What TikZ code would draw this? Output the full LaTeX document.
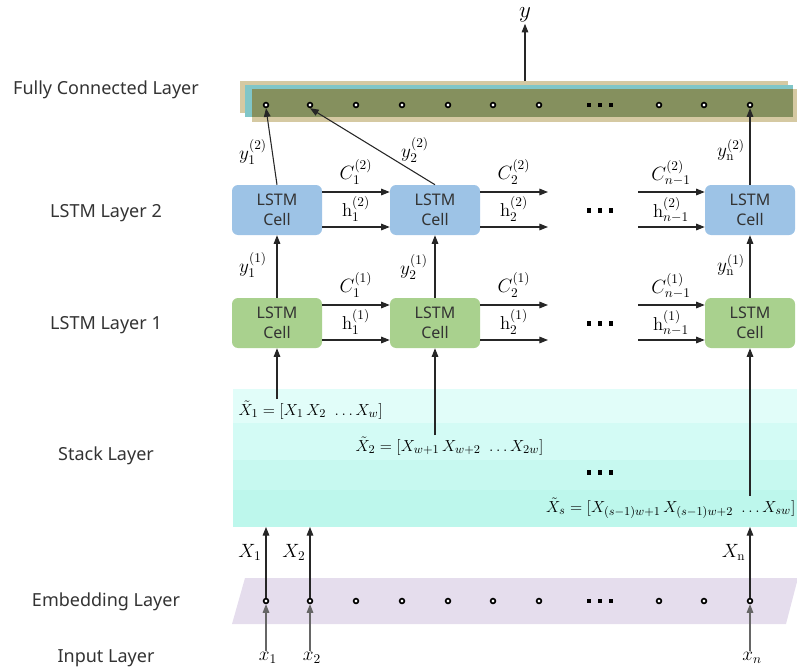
\documentclass[tikz,border=0pt]{standalone}
\usepackage{fontspec}
\usetikzlibrary{arrows.meta}
\newfontfamily\labfont{Noto Sans}
\definecolor{cellblue}{HTML}{9DC3E6}
\definecolor{cellgreen}{HTML}{A9D18E}
\definecolor{fctan}{HTML}{D5C9A2}
\definecolor{fcteal}{HTML}{80C6C8}
\definecolor{fcolive}{HTML}{85905E}
\definecolor{stA}{HTML}{E1FDF9}
\definecolor{stB}{HTML}{D3FBF5}
\definecolor{stC}{HTML}{C7F9F0}
\definecolor{stD}{HTML}{BDF7EC}
\definecolor{embcol}{HTML}{E5DDED}
\definecolor{txtgray}{HTML}{333333}
\begin{document}
\begin{tikzpicture}[x=0.75pt,y=-0.75pt,
  lbl/.style={font=\labfont\fontsize{13.5}{16}\selectfont, text=txtgray},
  cellbox/.style={rounded corners=4.5pt, minimum width=67.5pt, minimum height=37.5pt, inner sep=0pt, align=center, font=\labfont\fontsize{12}{14.6}\selectfont, text=txtgray},
  cellB/.style={cellbox, fill=cellblue},
  cellG/.style={cellbox, fill=cellgreen},
  dotn/.style={circle, draw=black, fill=white, line width=1.2pt, inner sep=0pt, minimum size=3.6pt},
  mth/.style={font=\fontsize{14}{16}\selectfont, inner sep=1pt},
  smth/.style={font=\fontsize{13}{15}\selectfont, inner sep=1pt},
  arr/.style={line width=0.8pt, draw=black!85, -{Triangle[length=6.5pt,width=5pt]}},
  garr/.style={line width=0.8pt, draw=black!60, -{Triangle[length=6.5pt,width=5pt]}}
]
\useasboundingbox (0,0) rectangle (797,671);

% left labels
\node[lbl] (lfc) at (106,90) {Fully Connected Layer};
\node[lbl] (ll2) at (106,213) {LSTM Layer 2};
\node[lbl] (ll1) at (106,325) {LSTM Layer 1};
\node[lbl] (lst) at (106,456) {Stack Layer};
\node[lbl] (lem) at (106,602) {Embedding Layer};
\node[lbl] (lin) at (106,658) {Input Layer};

% fully connected layer
\fill[fctan] (240,81) rectangle (788,113);
\fill[fcteal] (245,85) rectangle (793,117);
\fill[fctan] (252,89) rectangle (799,122);
\fill[fcolive] (252,89) rectangle (793,117);
\coordinate (fctop) at (525,81);

% stack layer
\fill[stA] (233,389) rectangle (797,423);
\fill[stB] (233,423) rectangle (797,460);
\fill[stC] (233,460) rectangle (797,490);
\fill[stD] (233,490) rectangle (797,527);
\coordinate (stbot) at (0,527);

% embedding layer
\fill[embcol] (245,578) -- (798,578) -- (786,624) -- (232,624) -- cycle;

% dots
\foreach \x [count=\i] in {266,310,356,402,448,493,539,659,704,750} {
  \node[dotn] (f\i) at (\x,105) {};
  \node[dotn] (e\i) at (\x,601) {};
}
\foreach \x in {589,600,611} {
  \fill (\x-2,103) rectangle (\x+2,107);
  \fill (\x-2,599) rectangle (\x+2,603);
  \fill (\x-2.3,208) rectangle (\x+2.3,212.6);
  \fill (\x-2.3,321) rectangle (\x+2.3,325.6);
  \fill (\x-2.3,470) rectangle (\x+2.3,474.6);
}

% output
\node[font=\fontsize{17}{19}\selectfont, inner sep=1pt] (yout) at (525,15) {$y$};
\draw[arr] (fctop) -- (yout.south);

% LSTM cells
\node[cellB] (b1) at (277,210) {LSTM\\Cell};
\node[cellB] (b2) at (435,210) {LSTM\\Cell};
\node[cellB] (b3) at (750,210) {LSTM\\Cell};
\node[cellG] (g1) at (277,323) {LSTM\\Cell};
\node[cellG] (g2) at (435,323) {LSTM\\Cell};
\node[cellG] (g3) at (750,323) {LSTM\\Cell};

% free ends of horizontal arrows
\coordinate (bu2) at (548,192); \coordinate (bl2) at (548,227);
\coordinate (bu3) at (638,192); \coordinate (bl3) at (638,227);
\coordinate (gu2) at (548,305); \coordinate (gl2) at (548,340);
\coordinate (gu3) at (638,305); \coordinate (gl3) at (638,340);

% layer 2 horizontal arrows
\draw[arr] (b1.east |- bu2) -- (b2.west |- bu2);
\draw[arr] (b1.east |- bl2) -- (b2.west |- bl2);
\draw[arr] (b2.east |- bu2) -- (bu2);
\draw[arr] (b2.east |- bl2) -- (bl2);
\draw[arr] (bu3) -- (b3.west |- bu3);
\draw[arr] (bl3) -- (b3.west |- bl3);
% layer 1 horizontal arrows
\draw[arr] (g1.east |- gu2) -- (g2.west |- gu2);
\draw[arr] (g1.east |- gl2) -- (g2.west |- gl2);
\draw[arr] (g2.east |- gu2) -- (gu2);
\draw[arr] (g2.east |- gl2) -- (gl2);
\draw[arr] (gu3) -- (g3.west |- gu3);
\draw[arr] (gl3) -- (g3.west |- gl3);

% state labels
\node[mth] (c12) at (356,172) {$C_1^{(2)}$};
\node[mth] (h12) at (356,209) {$\mathrm{h}_1^{(2)}$};
\node[mth] (c22) at (514,172) {$C_2^{(2)}$};
\node[mth] (h22) at (514,209) {$\mathrm{h}_2^{(2)}$};
\node[mth] (c32) at (671,173) {$C_{n-1}^{(2)}$};
\node[mth] (h32) at (671,210) {$\mathrm{h}_{n-1}^{(2)}$};
\node[mth] (c11) at (356,285) {$C_1^{(1)}$};
\node[mth] (h11) at (356,322) {$\mathrm{h}_1^{(1)}$};
\node[mth] (c21) at (514,285) {$C_2^{(1)}$};
\node[mth] (h21) at (514,322) {$\mathrm{h}_2^{(1)}$};
\node[mth] (c31) at (671,286) {$C_{n-1}^{(1)}$};
\node[mth] (h31) at (671,323) {$\mathrm{h}_{n-1}^{(1)}$};

% vertical connections
\draw[arr] (g1.north) -- (b1.south);
\draw[arr] (g2.north) -- (b2.south);
\draw[arr] (g3.north) -- (b3.south);
\draw[arr] (b1.north) -- (f1.south);
\draw[arr] (b2.north) -- (f2.south);
\draw[arr] (b3.north) -- (f10.south);
\node[mth] (y11) at (253,265) {$y_1^{(1)}$};
\node[mth] (y21) at (414,267) {$y_2^{(1)}$};
\node[mth] (yn1) at (731,265) {$y_{\mathrm{n}}^{(1)}$};
\node[mth] (y12) at (253,152) {$y_1^{(2)}$};
\node[mth] (y22) at (415,150) {$y_2^{(2)}$};
\node[mth] (yn2) at (731,150) {$y_{\mathrm{n}}^{(2)}$};

% stack texts
\node[smth, anchor=west] (s1) at (237,410) {$\tilde X_1=[X_1\,X_2\ \ldots X_w]$};
\node[smth, anchor=west] (s2) at (354,446) {$\tilde X_2=[X_{w+1}\,X_{w+2}\ \ldots X_{2w}]$};
\node[smth, anchor=east] (s3) at (797,508) {$\tilde X_s=[X_{(s-1)w+1}\,X_{(s-1)w+2}\ \ldots X_{sw}]$};
\draw[arr] (g1.south |- s1.north) -- (g1.south);
\draw[arr] (g2.south |- s2.north) -- (g2.south);
\draw[arr] (g3.south |- s3.north) -- (g3.south);

% embedding to stack
\draw[arr] (e1.north) -- (e1 |- stbot);
\draw[arr] (e2.north) -- (e2 |- stbot);
\draw[arr] (e10.north) -- (e10 |- stbot);
\node[mth, anchor=east] (X1) at (263,552) {$X_1$};
\node[mth, anchor=east] (X2) at (307,552) {$X_2$};
\node[mth, anchor=east] (Xn) at (747,552) {$X_{\mathrm{n}}$};

% inputs
\node[mth] (x1) at (268,658) {$x_1$};
\node[mth] (x2) at (312,658) {$x_2$};
\node[mth] (xn) at (752,658) {$x_n$};
\draw[garr] (e1 |- x1.north) -- (e1.south);
\draw[garr] (e2 |- x2.north) -- (e2.south);
\draw[garr] (e10 |- xn.north) -- (e10.south);
\end{tikzpicture}
\end{document}
